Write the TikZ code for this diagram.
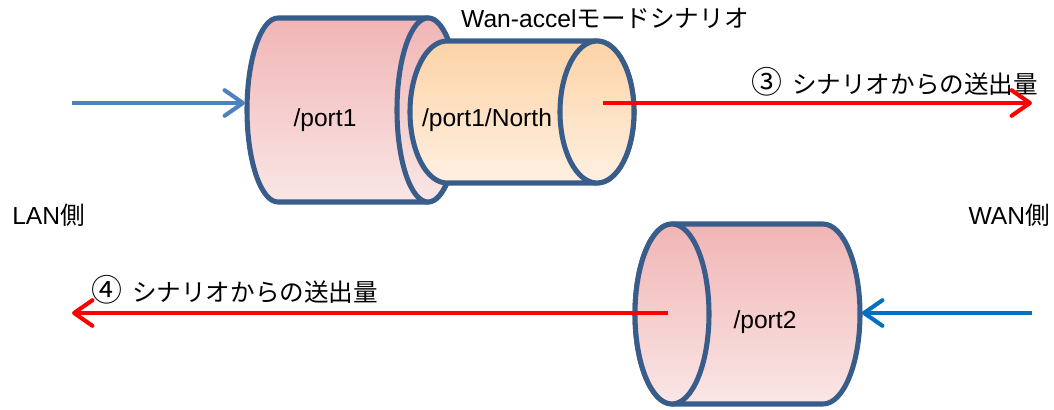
\documentclass[tikz,border=0pt]{standalone}
\usepackage{fontspec}
\setmainfont{Liberation Sans}
\newfontfamily\jpfont{Noto Sans CJK JP}
\newcommand{\ja}[1]{{\jpfont #1}}
\newcommand{\circnum}[1]{{\jpfont\fontsize{22}{20}\selectfont #1}\hspace{7pt}}
\usetikzlibrary{arrows.meta}
\definecolor{rimblue}{HTML}{385D8A}
\definecolor{pinktop}{HTML}{F1B5B5}
\definecolor{pinkbot}{HTML}{FAE6E6}
\definecolor{peachtop}{HTML}{FDD3A6}
\definecolor{peachbot}{HTML}{FFF0E2}
\definecolor{lanblue}{HTML}{4F81BD}
\definecolor{wanblue}{HTML}{0070C0}
\definecolor{flowred}{HTML}{FF0000}

\begin{document}
\begin{tikzpicture}[x=0.025cm,y=0.025cm,
 rim/.style={draw=rimblue,line width=3.6pt,line join=round},
 pinkbody/.style={rim,top color=pinktop,bottom color=pinkbot},
 peachbody/.style={rim,top color=peachtop,bottom color=peachbot},
 flow/.style={line width=2.9pt,-{Straight Barb[length=4.6mm,width=6.4mm,round]}},
 lbl/.style={inner sep=0pt,font=\fontsize{17.5}{20}\selectfont}]
\useasboundingbox (0,0) rectangle (1054,409);

% /port1
\path[pinkbody] (278,391) -- (428,391) arc(90:-90:31 and 92) -- (278,207) arc(270:90:31 and 92) -- cycle;
\path[pinkbody] (428,299) ellipse [x radius=31,y radius=92];
% /port1/North
\path[peachbody] (447,368) -- (597,368) arc(90:-90:37 and 71) -- (447,226) arc(270:90:37 and 71) -- cycle;
\path[peachbody] (597,297) ellipse [x radius=37,y radius=71];
% /port2
\path[pinkbody] (672,185) -- (823,185) arc(90:-90:37 and 90) -- (672,5) arc(270:90:37 and 90) -- cycle;
\path[pinkbody] (672,95) ellipse [x radius=37,y radius=90];

\node[lbl] (port1) at (325,289) {/port1};
\node[lbl] (north) at (487,289) {/port1/North};
\node[lbl] (port2) at (765,87) {/port2};
\node[lbl] (scen) at (605,391) {Wan-accel\ja{モードシナリオ}};
\node[lbl,anchor=west] (lan) at (12,194) {LAN\ja{側}};
\node[lbl,anchor=east] (wan) at (1050,194) {WAN\ja{側}};
\node[lbl,anchor=west] (out3) at (751,327) {\circnum{③}\ja{シナリオからの送出量}};
\node[lbl,anchor=west] (out4) at (91,119) {\circnum{④}\ja{シナリオからの送出量}};

\coordinate (lanin) at (72,306);
\coordinate (p1left) at (245,306);
\coordinate (northout) at (603,306);
\coordinate (wanend) at (1032,306);
\coordinate (p2out) at (668,96);
\coordinate (lanend) at (72,96);
\coordinate (wanin) at (1032,96);
\coordinate (p2right) at (862,96);

\draw[flow,lanblue] (lanin) -- (p1left);
\draw[flow,flowred] (northout) -- (wanend);
\draw[flow,flowred] (p2out) -- (lanend);
\draw[flow,wanblue] (wanin) -- (p2right);
\end{tikzpicture}
\end{document}
